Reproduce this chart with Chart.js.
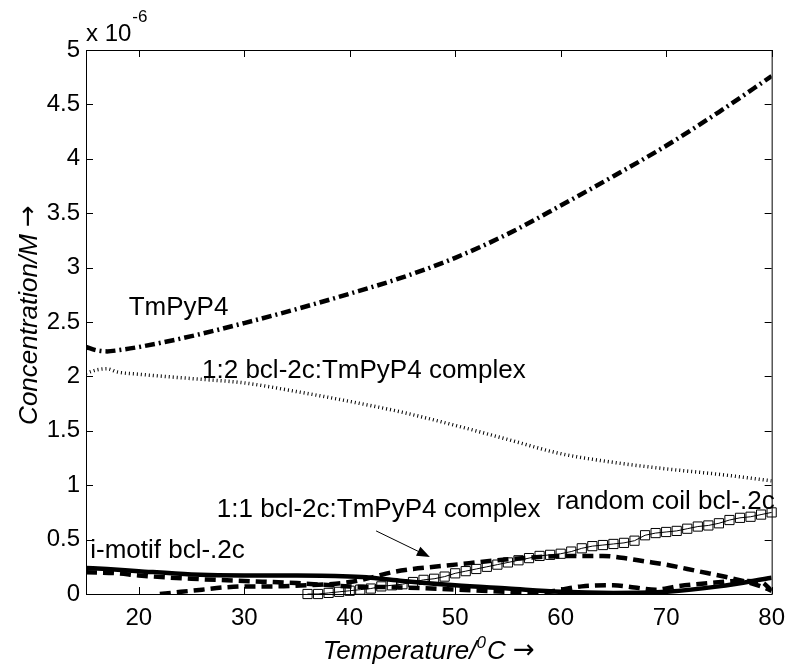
<!DOCTYPE html>
<html lang="en">
<head>
<meta charset="UTF-8" />
<title>Concentration vs Temperature</title>
<script src="https://cdn.jsdelivr.net/npm/chart.js"></script>
<style>
  * { margin: 0; padding: 0; box-sizing: border-box; }
  body { background: #fff; width: 795px; height: 668px; overflow: hidden; }
</style>
</head>
<body>
<canvas id="chart" width="795" height="668"></canvas>
<script>
  // tick values
  const xTicks = [20, 30, 40, 50, 60, 70, 80];
  const yTicks = [0, 0.5, 1, 1.5, 2, 2.5, 3, 3.5, 4, 4.5, 5];

  // concentrations in units of 1e-6 M
  const tmpyp4T = [15, 16, 17, 18, 20, 25, 30, 35, 40, 45, 50, 55, 60, 65, 70, 75, 80];
  const tmpyp4C = [2.27, 2.24, 2.23, 2.24, 2.27, 2.37, 2.49, 2.62, 2.76, 2.91, 3.09, 3.31, 3.57, 3.84, 4.12, 4.43, 4.76];

  const complex12T = [15, 16, 17, 18, 20, 25, 30, 35, 40, 45, 50, 55, 60, 65, 70, 75, 80];
  const complex12C = [2.03, 2.06, 2.07, 2.04, 2.02, 1.98, 1.94, 1.86, 1.77, 1.67, 1.55, 1.42, 1.29, 1.21, 1.15, 1.10, 1.04];

  const complex11T = [22, 24, 26, 28, 30, 33, 36, 38, 40, 42, 44, 46, 48, 50, 54, 58, 62, 64, 66, 68, 70, 72, 74, 76, 78, 79, 80];
  const complex11C = [0.00, 0.02, 0.04, 0.06, 0.07, 0.07, 0.08, 0.09, 0.11, 0.15, 0.20, 0.23, 0.25, 0.27, 0.31, 0.34, 0.35, 0.35, 0.33, 0.30, 0.27, 0.23, 0.19, 0.15, 0.10, 0.07, 0.03];

  const complex11bT = [15, 18, 20, 25, 30, 35, 40, 45, 50, 55, 58, 60, 62, 65, 67, 69, 71, 74, 77, 79, 80];
  const complex11bC = [0.20, 0.19, 0.17, 0.14, 0.12, 0.10, 0.07, 0.06, 0.04, 0.02, 0.01, 0.04, 0.07, 0.08, 0.06, 0.04, 0.07, 0.10, 0.12, 0.11, 0.03];

  const imotifT = [15, 17, 20, 25, 30, 35, 40, 42, 45, 50, 55, 60, 65, 70, 75, 80];
  const imotifC = [0.24, 0.23, 0.21, 0.18, 0.17, 0.17, 0.16, 0.15, 0.12, 0.08, 0.05, 0.02, 0.01, 0.02, 0.07, 0.15];

  const coilT = [36, 37, 38, 39, 40, 41, 42, 43, 44, 45, 46, 47, 48, 49, 50, 51, 52, 53, 54, 55, 56, 57, 58,
    59, 60, 61, 62, 63, 64, 65, 66, 67, 68, 69, 70, 71, 72, 73, 74, 75, 76, 77, 78, 79, 80];
  const coilC = [0.00, 0.00, 0.01, 0.02, 0.03, 0.04, 0.05, 0.07, 0.08, 0.09, 0.11, 0.13, 0.14, 0.16, 0.19, 0.21,
    0.23, 0.25, 0.27, 0.29, 0.31, 0.33, 0.35, 0.36, 0.37, 0.39, 0.42, 0.44, 0.45, 0.46, 0.47, 0.49, 0.54, 0.56,
    0.57, 0.58, 0.60, 0.62, 0.63, 0.65, 0.68, 0.70, 0.71, 0.73, 0.75];

  const FONT = '"Liberation Sans", Arial, Helvetica, sans-serif';
  const ARROW_FONT = '"DejaVu Sans", sans-serif';

  function pts(xs, ys) {
    return xs.map((x, i) => ({ x: x, y: ys[i] }));
  }

  // text annotations in data coordinates (baseline left)
  const notes = [
    { text: 'TmPyP4', x: 19.05, y: 2.56 },
    { text: '1:2 bcl-2c:TmPyP4 complex', x: 26.0, y: 1.985 },
    { text: '1:1 bcl-2c:TmPyP4 complex', x: 27.4, y: 0.71 },
    { text: 'random coil bcl-.2c', x: 59.6, y: 0.78 },
    { text: 'i-motif bcl-.2c', x: 15.4, y: 0.33 }
  ];
  const arrow = { x1: 42.5, y1: 0.58, x2: 47.6, y2: 0.34 };

  const decorPlugin = {
    id: 'decor',
    afterDatasetsDraw(chart) {
      const ctx = chart.ctx;
      const a = chart.chartArea;
      const xs = chart.scales.x, ys = chart.scales.y;
      ctx.save();
      ctx.fillStyle = '#000';
      ctx.strokeStyle = '#000';

      // box + inside ticks
      ctx.lineWidth = 1;
      ctx.strokeRect(a.left + 0.5, a.top + 0.5, a.right - a.left, a.bottom - a.top);
      ctx.beginPath();
      xTicks.forEach(v => {
        const px = Math.round(xs.getPixelForValue(v)) + 0.5;
        ctx.moveTo(px, a.bottom); ctx.lineTo(px, a.bottom - 7);
        ctx.moveTo(px, a.top); ctx.lineTo(px, a.top + 7);
      });
      yTicks.forEach(v => {
        const py = Math.round(ys.getPixelForValue(v)) + 0.5;
        ctx.moveTo(a.left, py); ctx.lineTo(a.left + 7, py);
        ctx.moveTo(a.right, py); ctx.lineTo(a.right - 7, py);
      });
      ctx.stroke();

      // labels on the curves
      ctx.font = '26px ' + FONT;
      ctx.textAlign = 'left';
      ctx.textBaseline = 'alphabetic';
      notes.forEach(n => {
        ctx.fillText(n.text, xs.getPixelForValue(n.x), ys.getPixelForValue(n.y));
      });

      // arrow
      const ax1 = xs.getPixelForValue(arrow.x1), ay1 = ys.getPixelForValue(arrow.y1);
      const ax2 = xs.getPixelForValue(arrow.x2), ay2 = ys.getPixelForValue(arrow.y2);
      const ang = Math.atan2(ay2 - ay1, ax2 - ax1);
      ctx.lineWidth = 1;
      ctx.beginPath();
      ctx.moveTo(ax1, ay1);
      ctx.lineTo(ax2 - 10 * Math.cos(ang), ay2 - 10 * Math.sin(ang));
      ctx.stroke();
      ctx.beginPath();
      ctx.moveTo(ax2, ay2);
      ctx.lineTo(ax2 - 13 * Math.cos(ang) + 5 * Math.sin(ang), ay2 - 13 * Math.sin(ang) - 5 * Math.cos(ang));
      ctx.lineTo(ax2 - 13 * Math.cos(ang) - 5 * Math.sin(ang), ay2 - 13 * Math.sin(ang) + 5 * Math.cos(ang));
      ctx.closePath();
      ctx.fill();

      // exponent above the y axis
      ctx.font = '24px ' + FONT;
      ctx.fillText('x 10', a.left, a.top - 9);
      const w = ctx.measureText('x 10').width;
      ctx.font = '17px ' + FONT;
      ctx.fillText('-6', a.left + w + 1, a.top - 28);

      // x axis title: Temperature/^0C ->
      const big = 'italic 26px ' + FONT, small = 'italic 17px ' + FONT, arr = '26px ' + ARROW_FONT;
      ctx.font = big;
      const w1 = ctx.measureText('Temperature/').width, w3 = ctx.measureText('C ').width;
      ctx.font = small;
      const w2 = ctx.measureText('0').width + 1;
      ctx.font = arr;
      const w4 = ctx.measureText('\u2192').width;
      let tx = (a.left + a.right) / 2 - (w1 + w2 + w3 + w4) / 2;
      const ty = 659;
      ctx.font = big;
      ctx.fillText('Temperature/', tx, ty);
      ctx.font = small;
      ctx.fillText('0', tx + w1, ty - 11);
      ctx.font = big;
      ctx.fillText('C ', tx + w1 + w2, ty);
      ctx.font = arr;
      ctx.fillText('\u2192', tx + w1 + w2 + w3, ty - 1);

      // y axis title
      ctx.translate(37, 0);
      ctx.rotate(-Math.PI / 2);
      ctx.font = big;
      const wy1 = ctx.measureText('Concentration/M ').width;
      ctx.font = arr;
      const wy2 = ctx.measureText('\u2192').width;
      const start = -(315 + (wy1 + wy2) / 2) + wy1 + wy2;
      // rotated: x axis of text runs upward; text starts at y = 315 + total/2
      const y0 = -(315 + (wy1 + wy2) / 2);
      ctx.font = big;
      ctx.fillText('Concentration/M ', y0, 0);
      ctx.font = arr;
      ctx.fillText('\u2192', y0 + wy1, -1);
      ctx.restore();
    }
  };

  const black = '#000';

  new Chart(document.getElementById('chart'), {
    type: 'line',
    data: {
      datasets: [
        {
          label: 'TmPyP4',
          data: pts(tmpyp4T, tmpyp4C),
          borderColor: black, borderWidth: 4.5,
          borderDash: [10, 4, 2, 4],
          pointRadius: 0, cubicInterpolationMode: 'monotone'
        },
        {
          label: '1:2 bcl-2c:TmPyP4 complex',
          data: pts(complex12T, complex12C),
          borderColor: black, borderWidth: 3.5,
          borderDash: [1, 3],
          pointRadius: 0, cubicInterpolationMode: 'monotone'
        },
        {
          label: 'i-motif bcl-.2c',
          data: pts(imotifT, imotifC),
          borderColor: black, borderWidth: 4.5,
          pointRadius: 0, cubicInterpolationMode: 'monotone'
        },
        {
          label: '1:1 bcl-2c:TmPyP4 complex',
          data: pts(complex11T, complex11C),
          borderColor: black, borderWidth: 4.5,
          borderDash: [11, 6],
          pointRadius: 0, cubicInterpolationMode: 'monotone'
        },
        {
          label: '1:1 bcl-2c:TmPyP4 complex (b)',
          data: pts(complex11bT, complex11bC),
          borderColor: black, borderWidth: 4.5,
          borderDash: [11, 6],
          pointRadius: 0, cubicInterpolationMode: 'monotone'
        },
        {
          label: 'random coil bcl-.2c',
          data: pts(coilT, coilC),
          borderColor: black, borderWidth: 1,
          pointStyle: 'rect', pointRadius: 6.5,
          pointBackgroundColor: 'rgba(255,255,255,0)', pointBorderColor: black, pointBorderWidth: 1,
          tension: 0, clip: false
        }
      ]
    },
    options: {
      responsive: false,
      animation: false,
      events: [],
      layout: { padding: { left: 0, top: 50, right: 19, bottom: 0 } },
      plugins: { legend: { display: false }, tooltip: { enabled: false } },
      scales: {
        x: {
          type: 'linear', min: 15, max: 80,
          grid: { display: false, drawTicks: false },
          border: { display: false },
          afterBuildTicks: s => { s.ticks = xTicks.map(v => ({ value: v })); },
          afterFit: s => { s.height = 74; },
          ticks: { color: black, padding: 10, maxRotation: 0, font: { family: FONT, size: 24 } }
        },
        y: {
          type: 'linear', min: 0, max: 5,
          grid: { display: false, drawTicks: false },
          border: { display: false },
          afterBuildTicks: s => { s.ticks = yTicks.map(v => ({ value: v })); },
          afterFit: s => { s.width = 86; },
          ticks: { color: black, padding: 6, font: { family: FONT, size: 24 }, callback: v => String(v) }
        }
      }
    },
    plugins: [decorPlugin]
  });
</script>
</body>
</html>
